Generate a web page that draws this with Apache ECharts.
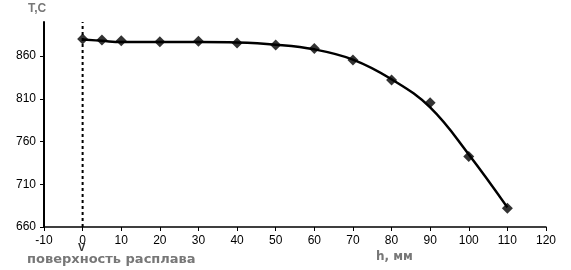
<!DOCTYPE html>
<html><head><meta charset="utf-8">
<script src="https://cdn.jsdelivr.net/npm/echarts@6/dist/echarts.min.js"></script>
<style>html,body{margin:0;padding:0;background:#fff}#c{width:571px;height:270px}</style>
</head><body><div id="c"></div>
<script>
// measured points
const depth = [0, 5, 10, 20, 30, 40, 50, 60, 70, 80, 90, 100, 110];
const temp  = [880, 879, 878, 877, 877.5, 875.5, 873, 869, 855.5, 832, 805.5, 742.5, 682];
// fitted trend curve
const trendX = [0, 5, 10, 20, 30, 40, 50, 60, 70, 80, 90, 100, 110];
const trendY = [879.5, 878, 876.5, 876.5, 876.5, 876, 873.5, 868, 856, 833, 800, 745, 683];
const yTicks = [660, 710, 760, 810, 860];
const surfaceX = 0;
const xMin = -10, xMax = 120, xStep = 10;
const yMin = 660, yMax = 900;

const chart = echarts.init(document.getElementById('c'), null, {renderer: 'canvas'});
const font = '"Liberation Sans", Arial, sans-serif';
const wide = '"DejaVu Sans", sans-serif';
chart.setOption({
  animation: false,
  grid: {left: 44, right: 25, top: 22, bottom: 43},
  xAxis: {
    type: 'value', min: xMin, max: xMax, interval: xStep,
    splitLine: {show: false},
    axisLine: {onZero: false, lineStyle: {color: '#000', width: 1.5}},
    axisTick: {show: true, length: 4, lineStyle: {color: '#000'}},
    axisLabel: {color: '#000', fontSize: 12, fontFamily: font, margin: 8}
  },
  yAxis: {
    type: 'value', min: yMin, max: yMax, position: 'left',
    splitLine: {show: false},
    axisLine: {show: true, onZero: false, lineStyle: {color: '#000', width: 2}},
    axisTick: {show: true, length: 4, customValues: yTicks, lineStyle: {color: '#000'}},
    axisLabel: {color: '#000', fontSize: 12, fontFamily: font, margin: 8, customValues: yTicks}
  },
  series: [
    {
      // left axis frame line
      type: 'line', showSymbol: false, silent: true, clip: false, z: 5,
      data: [[xMin, yMin], [xMin, yMax]],
      lineStyle: {color: '#000', width: 2}
    },
    {
      type: 'line', showSymbol: false, silent: true,
      data: [[surfaceX, yMin], [surfaceX, yMax]],
      lineStyle: {color: '#000', type: [3, 3], width: 2}
    },
    {
      type: 'line', smooth: 0.4, showSymbol: false,
      data: trendX.map((x, i) => [x, trendY[i]]),
      lineStyle: {color: '#000', width: 2.5}
    },
    {
      type: 'scatter', symbol: 'diamond', symbolSize: 11,
      data: depth.map((x, i) => [x, temp[i]]),
      itemStyle: {color: '#000'}
    }
  ],
  graphic: [
    {type: 'text', left: 28, top: 3, style: {text: 'Т,С', fill: '#777', font: 'bold 12px ' + font}},
    {type: 'text', left: 376, top: 251, style: {text: 'h, мм', fill: '#777', font: 'bold 12px ' + wide}},
    {type: 'text', left: 27, top: 253, style: {text: 'поверхность расплава', fill: '#777', font: 'bold 13px ' + wide}},
    {type: 'text', left: 78, top: 242, style: {text: 'V', fill: '#333', font: 'bold 11px ' + font}}
  ]
});
</script></body></html>
